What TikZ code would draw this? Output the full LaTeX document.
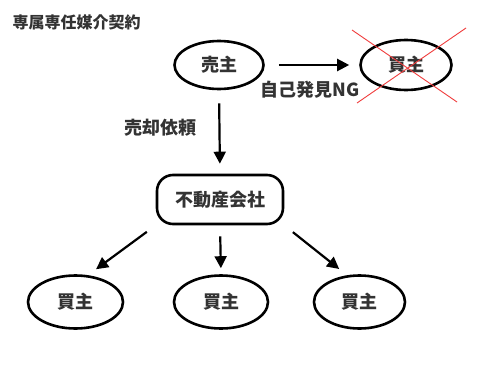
\documentclass[tikz,border=0pt]{standalone}
\usepackage{fontspec}
\setmainfont{Noto Sans CJK JP}
\usetikzlibrary{shapes.geometric,arrows.meta}
\definecolor{textgray}{RGB}{51,51,51}
\definecolor{crossred}{RGB}{240,60,60}

\tikzset{
  jp/.style={text=textgray,font=\bfseries\fontsize{18}{20}\selectfont},
  oval/.style={jp,draw=black,ellipse,line width=2.6pt,inner sep=0pt,minimum width=92pt,minimum height=52pt},
  agency/.style={jp,draw=black,rectangle,rounded corners=16pt,line width=2.6pt,minimum width=126pt,minimum height=49pt},
  flow/.style={line width=2.2pt,-{Triangle[length=12pt,width=12pt]}},
  crossline/.style={crossred,line width=0.9pt}
}

\begin{document}
\begin{tikzpicture}[x=1pt,y=-1pt]
            \useasboundingbox (0,0) rectangle (500,380);
            \fill[white] (0,0) rectangle (500,380);
            \node[jp,anchor=west,font=\bfseries\fontsize{16}{18}\selectfont] (title) at (9,22) {専属専任媒介契約};
            % top row
            \node[oval,minimum width=89pt,minimum height=48pt] (seller) at (219,65) {売主};
            \node[oval,minimum width=91pt,minimum height=50pt] (ngbuyer) at (406,65) {買主};
            \draw[crossline] ([shift={(-54,-35)}]ngbuyer.center) -- ([shift={(51,37)}]ngbuyer.center);
            \draw[crossline] ([shift={(60,-37)}]ngbuyer.center) -- ([shift={(-49,38)}]ngbuyer.center);
            \draw[flow,shorten <=14pt,shorten >=10pt] (seller.east) -- (ngbuyer.west);
            \node[jp] (selffind) at (310,90) {自己発見NG};
            % agency
            \node[agency] (company) at (220,199.5) {不動産会社};
            \draw[flow,shorten <=13pt,shorten >=10pt] (seller.south) -- (company.north);
            \node[jp] (request) at (160,128) {売却依頼};
            % buyers
            \node[oval,minimum width=95pt,minimum height=53pt] (buyerA) at (75.5,302) {買主};
            \node[oval,minimum width=94pt,minimum height=53pt] (buyerB) at (221,302) {買主};
            \node[oval,minimum width=91pt,minimum height=53pt] (buyerC) at (359.5,302) {買主};
            \draw[flow,shorten <=11pt,shorten >=10pt] (company.south west) -- (buyerA.65);
            \draw[flow,shorten <=11pt,shorten >=6pt] (company.south) -- (buyerB.north);
            \draw[flow,shorten <=11pt,shorten >=10pt] (company.south east) -- (buyerC.115);
        \end{tikzpicture}
\end{document}
